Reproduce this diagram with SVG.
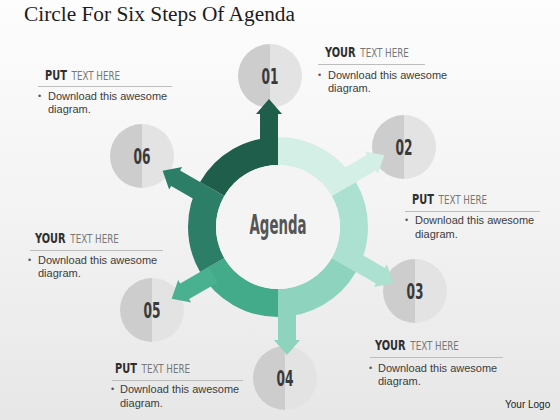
<svg xmlns="http://www.w3.org/2000/svg" width="560" height="420" viewBox="0 0 560 420">
<defs>
<linearGradient id="bg" x1="0" y1="0" x2="0" y2="1">
<stop offset="0" stop-color="#fdfdfd"/>
<stop offset="0.5" stop-color="#f3f3f3"/>
<stop offset="1" stop-color="#e7e7e7"/>
</linearGradient>
<path id="seg" d="M -77.94 -45 A 90 90 0 0 1 0 -90 L 0 -62 A 62 62 0 0 0 -53.69 -31 Z"/>
<path id="arr" d="M -18 -80 L 0 -80 L 0 -113 L 4 -113 L -9 -128 L -22 -113 L -18 -113 Z"/>
<g id="disc">
<path d="M 0 -32 A 32 32 0 0 0 0 32 Z" fill="#cdcdcd"/>
<path d="M 0 -32 A 32 32 0 0 1 0 32 Z" fill="#e3e3e3"/>
</g>
</defs>
<style>
.num{font-family:"Liberation Sans Narrow","DejaVu Sans Condensed","Liberation Sans",sans-serif;font-weight:bold;font-size:22px;fill:#3a3a3a;text-anchor:middle}
.hd{font-family:"Liberation Sans Narrow","DejaVu Sans Condensed","Liberation Sans",sans-serif}
.hb{font-weight:bold;font-size:14px;fill:#2e2e2e}
.hl{font-weight:normal;font-size:12.5px;fill:#777}
.body{font-family:"Liberation Sans",Arial,sans-serif;font-size:11px;fill:#3c3c3c}
.bul{font-family:"Liberation Sans",Arial,sans-serif;font-size:9px;fill:#555}
.rule{stroke:#bdbdbd;stroke-width:1}
</style>
<rect width="560" height="420" fill="url(#bg)"/>
<text x="24" y="21" font-family="Liberation Serif,'Times New Roman',serif" font-size="20" fill="#1c1c1c" textLength="271" lengthAdjust="spacingAndGlyphs">Circle For Six Steps Of Agenda</text>

<g id="node-01"><use href="#disc" x="270" y="76"/><text class="num" x="270" y="84" textLength="17" lengthAdjust="spacingAndGlyphs">01</text></g>
<g id="node-02"><use href="#disc" x="404" y="147"/><text class="num" x="404" y="155" textLength="17" lengthAdjust="spacingAndGlyphs">02</text></g>
<g id="node-03"><use href="#disc" x="415" y="291"/><text class="num" x="415" y="299" textLength="17" lengthAdjust="spacingAndGlyphs">03</text></g>
<g id="node-04"><use href="#disc" x="285" y="378"/><text class="num" x="285" y="386" textLength="17" lengthAdjust="spacingAndGlyphs">04</text></g>
<g id="node-05"><use href="#disc" x="152" y="310"/><text class="num" x="152" y="318" textLength="17" lengthAdjust="spacingAndGlyphs">05</text></g>
<g id="node-06"><use href="#disc" x="142" y="156"/><text class="num" x="142" y="164" textLength="17" lengthAdjust="spacingAndGlyphs">06</text></g>

<g id="hub" transform="translate(278 227)">
<use href="#seg" fill="#1f5e4b"/>
<use href="#seg" fill="#d3efe6" transform="rotate(60)"/>
<use href="#seg" fill="#ace1d1" transform="rotate(120)"/>
<use href="#seg" fill="#8dd3bd" transform="rotate(180)"/>
<use href="#seg" fill="#43aa8a" transform="rotate(240)"/>
<use href="#seg" fill="#2c7e67" transform="rotate(300)"/>
<circle r="62" fill="#f4f4f4"/>
<text x="0" y="7" text-anchor="middle" font-family="'Liberation Sans Narrow','DejaVu Sans Condensed',sans-serif" font-weight="bold" font-size="26" fill="#555" textLength="57" lengthAdjust="spacingAndGlyphs">Agenda</text>
</g>

<g id="connectors" transform="translate(278 227)">
<use href="#arr" fill="#1f5e4b"/>
<use href="#arr" fill="#d3efe6" transform="rotate(60)"/>
<use href="#arr" fill="#ace1d1" transform="rotate(120)"/>
<use href="#arr" fill="#8dd3bd" transform="rotate(180)"/>
<use href="#arr" fill="#4ab190" transform="rotate(240)"/>
<use href="#arr" fill="#2c7e67" transform="rotate(300)"/>
</g>

<g id="text-01">
<text class="hd" transform="translate(325 57) scale(0.78 1)"><tspan class="hb">YOUR</tspan><tspan class="hl" dx="6">TEXT HERE</tspan></text>
<line class="rule" x1="318" y1="64.5" x2="425" y2="64.5"/>
<text class="bul" x="318" y="78">•</text>
<text class="body" x="328" y="79">Download this awesome</text>
<text class="body" x="328" y="92">diagram.</text>
</g>
<g id="text-02">
<text class="hd" transform="translate(412 204) scale(0.78 1)"><tspan class="hb">PUT</tspan><tspan class="hl" dx="6">TEXT HERE</tspan></text>
<line class="rule" x1="405" y1="211.5" x2="540" y2="211.5"/>
<text class="bul" x="405" y="223">•</text>
<text class="body" x="415" y="224">Download this awesome</text>
<text class="body" x="415" y="238">diagram.</text>
</g>
<g id="text-06">
<text class="hd" transform="translate(45 80) scale(0.78 1)"><tspan class="hb">PUT</tspan><tspan class="hl" dx="6">TEXT HERE</tspan></text>
<line class="rule" x1="38" y1="86.5" x2="172" y2="86.5"/>
<text class="bul" x="38" y="99">•</text>
<text class="body" x="48" y="100">Download this awesome</text>
<text class="body" x="48" y="113">diagram.</text>
</g>
<g id="text-05">
<text class="hd" transform="translate(35 243) scale(0.78 1)"><tspan class="hb">YOUR</tspan><tspan class="hl" dx="6">TEXT HERE</tspan></text>
<line class="rule" x1="30" y1="250.5" x2="163" y2="250.5"/>
<text class="bul" x="28" y="263">•</text>
<text class="body" x="38" y="264">Download this awesome</text>
<text class="body" x="38" y="277">diagram.</text>
</g>
<g id="text-04a">
<text class="hd" transform="translate(115 373) scale(0.78 1)"><tspan class="hb">PUT</tspan><tspan class="hl" dx="6">TEXT HERE</tspan></text>
<line class="rule" x1="112" y1="380.5" x2="243" y2="380.5"/>
<text class="bul" x="111" y="392">•</text>
<text class="body" x="120" y="393">Download this awesome</text>
<text class="body" x="120" y="407">diagram.</text>
</g>
<g id="text-04b">
<text class="hd" transform="translate(375 350) scale(0.78 1)"><tspan class="hb">YOUR</tspan><tspan class="hl" dx="6">TEXT HERE</tspan></text>
<line class="rule" x1="370" y1="357.5" x2="503" y2="357.5"/>
<text class="bul" x="369" y="371">•</text>
<text class="body" x="378" y="372">Download this awesome</text>
<text class="body" x="378" y="385">diagram.</text>
</g>
<text x="505" y="408" font-family="Liberation Sans,Arial,sans-serif" font-size="10" fill="#222">Your Logo</text>
</svg>
